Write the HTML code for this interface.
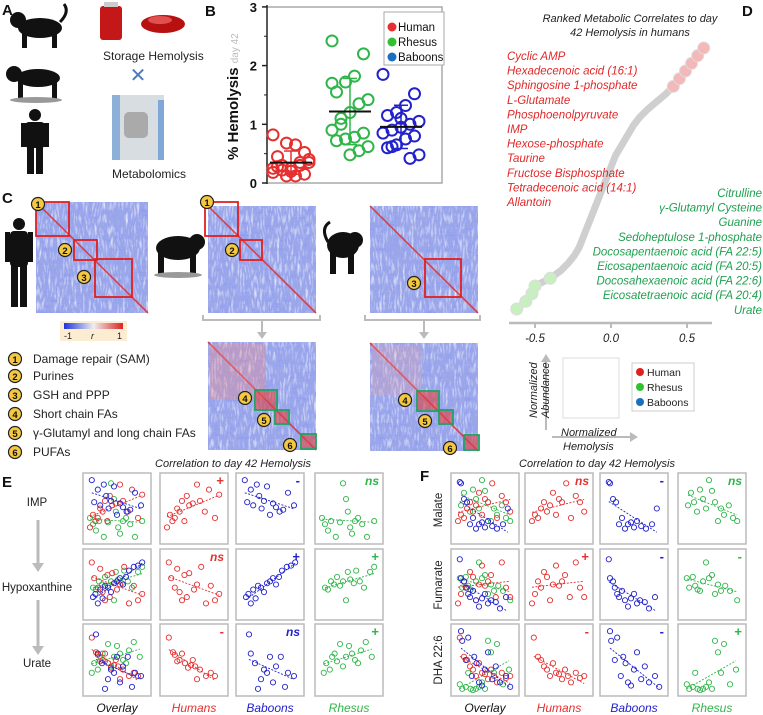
<!DOCTYPE html>
<html><head><meta charset="utf-8"><style>
body{margin:0;background:#fff}
svg{display:block;font-family:"Liberation Sans",sans-serif}
</style></head><body>
<svg id="s" width="763" height="715" viewBox="0 0 763 715" xmlns="http://www.w3.org/2000/svg">
<defs>
<filter id="noise" x="0" y="0" width="100%" height="100%">
<feTurbulence type="turbulence" baseFrequency="0.35 0.08" numOctaves="2" seed="3"/>
<feColorMatrix type="matrix" values="0 0 0 0 1  0 0 0 0 1  0 0 0 0 1  0 0 0 1.6 -0.35"/>
</filter>
<filter id="noise2" x="0" y="0" width="100%" height="100%">
<feTurbulence type="turbulence" baseFrequency="0.08 0.35" numOctaves="2" seed="7"/>
<feColorMatrix type="matrix" values="0 0 0 0 0.25  0 0 0 0 0.3  0 0 0 0 0.9  0 0 0 1.4 -0.4"/>
</filter>
<linearGradient id="cb" x1="0" x2="1"><stop offset="0" stop-color="#2233dd"/><stop offset="0.5" stop-color="#eee"/><stop offset="1" stop-color="#dd2222"/></linearGradient>
</defs>
<g font-weight="bold" font-size="15" fill="#111">
<text x="2" y="15">A</text>
<text x="205" y="16">B</text>
<text x="2" y="203">C</text>
<text x="742" y="16">D</text>
<text x="2" y="487">E</text>
<text x="420" y="481">F</text>
</g>
<!-- Panel A -->
<g>
<g fill="#111"><ellipse cx="40" cy="28" rx="22" ry="10"/><circle cx="18" cy="20" r="8"/><rect x="22" y="32" width="5" height="16"/><rect x="52" y="32" width="5" height="16"/><path d="M60 22 q10 -10 4 -18" stroke="#111" stroke-width="3" fill="none"/></g>
<g fill="#111"><ellipse cx="38" cy="78" rx="22" ry="9"/><circle cx="14" cy="74" r="8"/><rect x="18" y="82" width="5" height="18"/><rect x="52" y="82" width="5" height="18"/><ellipse cx="36" cy="100" rx="26" ry="3" fill="#999"/></g>
<g fill="#111"><circle cx="35" cy="115" r="6"/><rect x="25" y="122" width="20" height="26" rx="4"/><rect x="27" y="146" width="7" height="28"/><rect x="36" y="146" width="7" height="28"/><rect x="21" y="123" width="5" height="24"/><rect x="44" y="123" width="5" height="24"/></g>
<g><rect x="100" y="6" width="22" height="34" rx="3" fill="#c41818"/><rect x="104" y="2" width="14" height="5" fill="#ccc"/><ellipse cx="163" cy="24" rx="22" ry="9" fill="#b71010"/><ellipse cx="160" cy="20" rx="12" ry="4" fill="#e05050"/></g>
<text x="103" y="60" font-size="12" fill="#222">Storage Hemolysis</text>
<text x="138" y="82" font-size="20" fill="#4a7cc0" text-anchor="middle">✕</text>
<g><rect x="112" y="95" width="52" height="65" fill="#d8dde2"/><rect x="112" y="95" width="8" height="65" fill="#8db0d8"/><rect x="158" y="100" width="6" height="60" fill="#7fa8d8"/><rect x="124" y="112" width="24" height="26" rx="5" fill="#aaa"/></g>
<text x="112" y="178" font-size="12" fill="#222">Metabolomics</text>
</g>
<!-- Panel B -->
<g id="pb"></g>
<!-- Panel C -->
<g id="pc">
<g fill="#111"><circle cx="19" cy="224" r="6"/><rect x="10" y="231" width="18" height="36" rx="4"/><rect x="11" y="265" width="7" height="42"/><rect x="20" y="265" width="7" height="42"/><rect x="5" y="232" width="5" height="30"/><rect x="28" y="232" width="5" height="30"/></g>
<g fill="#111"><ellipse cx="178" cy="248" rx="22" ry="12"/><circle cx="197" cy="242" r="8"/><rect x="158" y="252" width="6" height="22"/><rect x="190" y="252" width="6" height="22"/><ellipse cx="178" cy="275" rx="24" ry="3" fill="#999"/></g>
<g fill="#111"><ellipse cx="343" cy="245" rx="16" ry="13"/><circle cx="355" cy="240" r="8"/><rect x="330" y="252" width="6" height="22"/><rect x="348" y="252" width="6" height="22"/><path d="M328 242 q-8 -14 2 -20" stroke="#111" stroke-width="3" fill="none"/></g>
<rect x="60" y="321" width="67" height="20" fill="#fbecd2"/>
<rect x="64" y="323" width="59" height="6" fill="url(#cb)"/>
<text x="64" y="339" font-size="9" fill="#222">-1</text>
<text x="91" y="339" font-size="9" font-style="italic" fill="#222">r</text>
<text x="117" y="339" font-size="9" fill="#222">1</text>
<path d="M203 315 v5 h117 v-5 M262 320 v14" stroke="#bbb" stroke-width="2" fill="none"/>
<path d="M257 332 l5 7 l5 -7z" fill="#bbb"/>
<path d="M365 315 v5 h115 v-5 M424 320 v14" stroke="#bbb" stroke-width="2" fill="none"/>
<path d="M419 332 l5 7 l5 -7z" fill="#bbb"/>
</g>
<g id="pcl" font-size="12" fill="#222"></g>
<!-- Panel D -->
<g id="pd">
<text x="630" y="22" font-size="11" font-style="italic" fill="#222" text-anchor="middle">Ranked Metabolic Correlates to day</text>
<text x="630" y="36" font-size="11" font-style="italic" fill="#222" text-anchor="middle">42 Hemolysis in humans</text>
</g>
<g>
<rect x="563" y="358" width="56" height="60" fill="none" stroke="#ddd"/>
<path d="M546 430 V360" stroke="#bbb" stroke-width="2"/><path d="M541 362 l5 -8 l5 8z" fill="#bbb"/>
<path d="M552 437 H632" stroke="#bbb" stroke-width="2"/><path d="M630 432 l8 5 l-8 5z" fill="#bbb"/>
<text transform="translate(537,418) rotate(-90)" font-size="11" font-style="italic" fill="#222"><tspan x="0" dy="0">Normalized</tspan><tspan x="0" dy="12">Abundance</tspan></text>
<text x="561" y="436" font-size="11" font-style="italic" fill="#222">Normalized</text>
<text x="563" y="450" font-size="11" font-style="italic" fill="#222">Hemolysis</text>
<rect x="632" y="363" width="62" height="48" fill="#fff" stroke="#ccc"/>
<circle cx="640" cy="372" r="4" fill="#e02020"/><text x="647" y="376" font-size="10.5" fill="#222">Human</text>
<circle cx="640" cy="387" r="4" fill="#30c030"/><text x="647" y="391" font-size="10.5" fill="#222">Rhesus</text>
<circle cx="640" cy="402" r="4" fill="#1a6fc0"/><text x="647" y="406" font-size="10.5" fill="#222">Baboons</text>
</g>
<!-- Panels E/F -->
<text x="233" y="467" font-size="11" font-style="italic" fill="#222" text-anchor="middle">Correlation to day 42 Hemolysis</text>
<text x="597" y="467" font-size="11" font-style="italic" fill="#222" text-anchor="middle">Correlation to day 42 Hemolysis</text>
<g font-size="11.5" fill="#222" text-anchor="middle">
<text x="37" y="506">IMP</text>
<text x="37" y="591">Hypoxanthine</text>
<text x="37" y="667">Urate</text>
<text transform="translate(442,510) rotate(-90)">Malate</text>
<text transform="translate(442,585) rotate(-90)">Fumarate</text>
<text transform="translate(442,660) rotate(-90)">DHA 22:6</text>
</g>
<path d="M38 520 V565 M38 600 V648" stroke="#bbb" stroke-width="3"/>
<path d="M32 563 l6 9 l6 -9z M32 646 l6 9 l6 -9z" fill="#bbb"/>
<g id="pef"></g>
</svg>
<script>
const NS="http://www.w3.org/2000/svg";
function mk(p,t,a,txt){const e=document.createElementNS(NS,t);for(const k in a)e.setAttribute(k,a[k]);if(txt!==undefined)e.textContent=txt;p.appendChild(e);return e;}
const RED="#e63030",GRN="#2fb54a",BLU="#2222cc";

/* ---------- Panel B data ---------- */
const bGroups=["Human","Rhesus","Baboons"];
const bHuman=[0.82,0.52,0.65,0.68,0.45,0.35,0.30,0.25,0.22,0.18,0.15,0.12,0.12,0.28,0.40,0.35,0.20,0.30,0.25];
const bRhesus=[2.42,2.2,1.82,1.72,1.55,1.42,1.35,1.2,1.0,0.9,0.85,0.78,0.75,0.72,0.62,0.55,0.48,1.1,1.7];
const bBaboon=[1.85,1.52,1.32,1.2,1.15,1.05,1.0,0.95,0.9,0.85,0.8,0.75,0.65,0.6,0.48,0.42,1.1,0.62];
const bTicks=[0,1,2,3];
(function(){
  const g=document.getElementById('pb');
  const y=v=>183-v*58.7, xc=[291,350,401];
  mk(g,'path',{d:'M267 7 H442 V183 H267',fill:'none',stroke:'#aaa','stroke-width':1.5});
  mk(g,'line',{x1:267,y1:5,x2:267,y2:184,stroke:'#222','stroke-width':1.5});
  bTicks.forEach(t=>{mk(g,'line',{x1:262,x2:267,y1:y(t),y2:y(t),stroke:'#222','stroke-width':1.5});
    const tx=mk(g,'text',{x:257,y:y(t)+5,'font-size':13,'font-weight':'bold','text-anchor':'end',fill:'#111'},String(t));
    
    if(t<3)mk(g,'line',{x1:264,x2:267,y1:y(t+0.5),y2:y(t+0.5),stroke:'#222'});});
  const yl=mk(g,'text',{transform:'translate(238,160) rotate(-90)','font-size':15,'font-weight':'bold',fill:'#111'});
  
  mk(yl,'tspan',{},'% Hemolysis ');mk(yl,'tspan',{'font-size':10,'font-weight':'normal',fill:'#bbb'},'day 42');
  [bHuman,bRhesus,bBaboon].forEach((arr,gi)=>{
    const col=[RED,GRN,BLU][gi];
    const m=arr.reduce((a,b)=>a+b,0)/arr.length;
    const sd=Math.sqrt(arr.reduce((a,b)=>a+(b-m)*(b-m),0)/(arr.length-1));
    arr.forEach((v,i)=>{const c=mk(g,'circle',{cx:xc[gi]+(((i*7)%9)-4)*4.5,cy:y(v),r:5.5,fill:'none',stroke:col,'stroke-width':2});
      });
    mk(g,'line',{x1:xc[gi],x2:xc[gi],y1:y(m+sd),y2:y(Math.max(0,m-sd)),stroke:col,'stroke-width':1.5});
    mk(g,'line',{x1:xc[gi]-7,x2:xc[gi]+7,y1:y(m+sd),y2:y(m+sd),stroke:col,'stroke-width':1.5});
    mk(g,'line',{x1:xc[gi]-7,x2:xc[gi]+7,y1:y(m-sd),y2:y(m-sd),stroke:col,'stroke-width':1.5});
    const ml=mk(g,'line',{x1:xc[gi]-21,x2:xc[gi]+21,y1:y(m),y2:y(m),stroke:'#111','stroke-width':2});
    
  });
  const lg=mk(g,'g',{});
  mk(lg,'rect',{x:384,y:12,width:60,height:53,fill:'#fff',stroke:'#aaa'});
  bGroups.forEach((n,i)=>{mk(lg,'circle',{cx:392,cy:27+i*15,r:4.5,fill:[RED,'#30c030','#1a6fc0'][i]});
    mk(lg,'text',{x:398,y:31+i*15,'font-size':11.5,fill:'#111'},n);});
})();

/* ---------- Panel C heatmaps ---------- */
(function(){
  const g=document.getElementById('pc');
  const maps=[[36,202,112,111,'human-heatmap'],[208,206,108,107,'rhesus-heatmap'],[370,206,108,107,'baboon-heatmap'],[208,342,108,108,'rhesus-zoom-heatmap'],[370,343,108,108,'baboon-zoom-heatmap']];
  maps.forEach(m=>{const[x,y,w,h,n]=m;const sg=mk(g,'g',{});
    mk(sg,'rect',{x,y,width:w,height:h,fill:'#9aa6ea'});
    mk(sg,'rect',{x,y,width:w,height:h,filter:'url(#noise2)'});
    mk(sg,'rect',{x,y,width:w,height:h,filter:'url(#noise)',opacity:0.8});
    mk(sg,'line',{x1:x,y1:y,x2:x+w,y2:y+h,stroke:'#e03030','stroke-width':1.6,opacity:0.85});});
  // zoom red bands
  mk(g,'rect',{x:210,y:344,width:55,height:55,fill:'#f08a8a',opacity:0.35});
  mk(g,'rect',{x:372,y:345,width:50,height:50,fill:'#f0a0a0',opacity:0.25});
  const boxes=[[36,202,33,34,'#e02020',1],[74,240,23,20,'#e02020',2],[95,259,37,38,'#e02020',3],
    [205,202,33,34,'#e02020',1],[240,240,22,20,'#e02020',2],[425,259,36,38,'#e02020',3],
    [255,390,22,20,'#22a060',4],[275,410,14,14,'#22a060',5],[301,434,15,15,'#22a060',6],
    [417,391,22,20,'#22a060',4],[439,410,14,14,'#22a060',5],[464,435,15,15,'#22a060',6]];
  const bc=[[38,204],[65,250],[84,277],[207,202],[232,250],[414,283],[245,398],[264,420],[290,445],[405,400],[425,421],[450,448]];
  boxes.forEach((b,i)=>{const[x,y,w,h,c,n]=b;
    if(c!=='#e02020')mk(g,'rect',{x:x+1,y:y+1,width:w-2,height:h-2,fill:'#e04040',opacity:0.6});
    mk(g,'rect',{x,y,width:w,height:h,fill:'none',stroke:c,'stroke-width':1.8});
    const cc=mk(g,'circle',{cx:bc[i][0],cy:bc[i][1],r:6.5,fill:'#f5c842',stroke:'#222','stroke-width':1.2});
    
    mk(g,'text',{x:bc[i][0],y:bc[i][1]+4,'font-size':9.5,'font-weight':'bold','text-anchor':'middle',fill:'#111'},String(n));});
  const L=document.getElementById('pcl');
  const items=["Damage repair (SAM)","Purines","GSH and PPP","Short chain FAs","γ-Glutamyl and long chain FAs","PUFAs"];
  const ys=[359,376,395,414,433,452];
  items.forEach((t,i)=>{mk(L,'circle',{cx:15,cy:ys[i],r:6.5,fill:'#f5c842',stroke:'#222','stroke-width':1.2});
    mk(L,'text',{x:15,y:ys[i]+4,'font-size':9.5,'font-weight':'bold','text-anchor':'middle',fill:'#111'},String(i+1));
    const e=mk(L,'text',{x:33,y:ys[i]+4},t);});
})();

/* ---------- Panel D data ---------- */
const dCorr=[-0.62,-0.56,-0.52,-0.50,-0.40,-0.33,-0.28,-0.24,-0.21,-0.19,-0.17,-0.15,-0.13,-0.11,-0.09,-0.07,-0.05,-0.03,-0.01,0.01,0.03,0.06,0.09,0.12,0.15,0.19,0.24,0.30,0.36,0.41,0.45,0.49,0.53,0.57,0.61];
const dTicks=[-0.5,0.0,0.5];
const dRed=["Cyclic AMP","Hexadecenoic acid (16:1)","Sphingosine 1-phosphate","L-Glutamate","Phosphoenolpyruvate","IMP","Hexose-phosphate","Taurine","Fructose Bisphosphate","Tetradecenoic acid (14:1)","Allantoin"];
const dGreen=["Citrulline","γ-Glutamyl Cysteine","Guanine","Sedoheptulose 1-phosphate","Docosapentaenoic acid (FA 22:5)","Eicosapentaenoic acid (FA 20:5)","Docosahexaenoic acid (FA 22:6)","Eicosatetraenoic acid (FA 20:4)","Urate"];
(function(){
  const g=document.getElementById('pd');
  const x=v=>611+v*152, n=dCorr.length, y=i=>309-i*(261/(n-1));
  mk(g,'line',{x1:509,x2:712,y1:323,y2:323,stroke:'#bbb','stroke-width':2.5});
  dTicks.forEach(t=>{mk(g,'line',{x1:x(t),x2:x(t),y1:323,y2:328,stroke:'#bbb','stroke-width':2});
    const e=mk(g,'text',{x:x(t),y:342,'font-size':11.5,'font-style':'italic','text-anchor':'middle',fill:'#222'},t.toFixed(1));
    });
  const pts=dCorr.map((v,i)=>x(v)+','+y(i)).join(' ');
  const pl=mk(g,'polyline',{points:pts,fill:'none',stroke:'#cfcfcf','stroke-width':7,'stroke-linejoin':'round','stroke-linecap':'round'});
  
  dCorr.forEach((v,i)=>{let c=null;if(i<5)c='#c8efc0';else if(i>=n-6)c='#f5b8b8';
    if(c){const p=mk(g,'circle',{cx:x(v),cy:y(i),r:6,fill:c,stroke:'#ddd'});}});
  dRed.forEach((t,i)=>{const e=mk(g,'text',{x:507,y:60+i*14.6,'font-size':11.5,'font-style':'italic',fill:'#e02828'},t);
    });
  dGreen.forEach((t,i)=>{const e=mk(g,'text',{x:762,y:197+i*14.6,'font-size':11.5,'font-style':'italic','text-anchor':'end',fill:'#20a050'},t);
    });
})();

/* ---------- Panels E/F scatter data ---------- */
const hIMPx=[5,10,14,18,22,26,30,34,38,42,48,55,60,68,75,85,92], hIMPy=[20,40,30,35,50,45,62,30,70,55,58,88,62,45,80,35,72];
const bIMPx=[8,12,18,22,28,32,36,40,45,50,55,60,66,72,80,90], bIMPy=[95,60,80,55,88,70,50,62,85,40,58,52,45,48,75,55];
const rIMPx=[5,10,15,20,28,35,40,45,48,52,55,60,65,72,80,92], rIMPy=[35,25,15,30,5,28,90,65,45,20,10,30,35,25,5,30];
const hHYx=[8,12,18,22,26,30,34,38,42,50,55,62,70,78,85,92], hHYy=[85,60,45,75,38,25,65,30,68,42,50,78,20,48,25,35];
const bHYx=[10,14,18,22,26,30,35,40,45,50,55,60,65,70,78,85,92], bHYy=[30,35,20,42,28,48,45,38,52,55,60,50,62,72,78,80,85];
const rHYx=[10,15,20,25,30,35,40,45,48,52,58,62,68,75,85,92], rHYy=[45,42,55,50,62,48,55,25,70,58,52,72,55,45,70,78];
const hURx=[8,15,18,22,26,30,35,40,45,48,52,55,60,70,78,85], hURy=[85,62,58,48,50,60,45,38,42,50,40,20,35,25,30,25];
const bURx=[15,18,25,30,35,40,45,50,55,60,68,75,80,90], bURy=[90,60,45,5,20,35,30,55,15,40,55,8,30,25];
const rURx=[8,12,18,22,26,30,35,40,45,50,55,60,65,70,78,88], rURy=[30,45,35,55,60,48,75,40,55,72,60,50,45,65,78,55];
const hMAx=[5,10,15,20,25,30,35,40,45,50,55,62,70,78,85,92], hMAy=[30,40,35,50,60,45,55,75,40,65,60,90,35,70,60,45];
const bMAx=[8,10,15,20,25,30,35,40,45,50,55,62,70,80,88], bMAy=[92,90,65,60,25,35,18,25,28,20,30,22,18,25,50];
const rMAx=[10,15,20,25,30,35,40,45,50,55,60,65,70,78,85,92], rMAy=[55,75,60,45,80,65,50,95,78,60,30,50,40,55,35,30];
const hFUx=[5,10,15,20,25,30,35,40,45,50,55,60,68,78,85,92], hFUy=[20,35,55,45,70,62,25,50,80,48,55,65,30,85,45,30];
const bFUx=[8,10,15,18,22,25,30,35,40,45,50,55,60,68,75,85], bFUy=[90,60,55,45,35,30,40,25,15,28,35,20,25,22,12,30];
const rFUx=[8,12,18,22,26,30,35,40,45,50,55,60,65,72,80,92], rFUy=[60,45,62,48,42,40,55,85,60,65,35,50,40,48,40,25];
const hDHx=[8,15,20,25,30,35,40,45,50,55,60,65,70,78,85,92], hDHy=[85,55,50,40,35,25,45,30,28,20,35,25,15,30,22,25];
const bDHx=[10,12,18,22,28,32,36,40,45,50,55,62,68,75,85,92], bDHy=[95,80,50,85,25,55,45,15,10,35,62,20,40,15,25,8];
const rDHx=[8,12,18,22,26,30,35,40,45,50,55,60,65,70,80,90], rDHy=[12,5,8,30,5,3,5,8,15,5,80,62,30,75,12,35];
const eSig=[["+","-","ns"],["ns","+","+"],["-","ns","+"]];
const fSig=[["ns","-","ns"],["+","-","-"],["-","-","+"]];
(function(){
  const G=document.getElementById('pef');
  function panel(x0,y0,w,h,sets,sig,sigCol,name){
    const g=mk(G,'g',{});
    mk(g,'rect',{x:x0,y:y0,width:w,height:h,fill:'#fff',stroke:'#bbb','stroke-width':1.5});
    const px=v=>x0+4+v/100*(w-8), py=v=>y0+h-4-v/100*(h-8);
    sets.forEach(s=>{
      const n=s.x.length,mx=s.x.reduce((a,b)=>a+b)/n,my=s.y.reduce((a,b)=>a+b)/n;
      let sxy=0,sxx=0;for(let i=0;i<n;i++){sxy+=(s.x[i]-mx)*(s.y[i]-my);sxx+=(s.x[i]-mx)**2;}
      const b=sxy/sxx,a=my-b*mx,xa=Math.min(...s.x),xb=Math.max(...s.x);
      s.x.forEach((v,i)=>{const c=mk(g,'circle',{cx:px(v),cy:py(s.y[i]),r:2.6,fill:'none',stroke:s.c,'stroke-width':0.9});
        });
      const tl=mk(g,'line',{x1:px(xa),y1:py(a+b*xa),x2:px(xb),y2:py(a+b*xb),stroke:s.c,'stroke-width':0.9,'stroke-dasharray':'2,1.5'});
      
    });
    if(sig){const t=mk(g,'text',{x:x0+w-4,y:y0+12,'font-size':sig==='ns'?12:13,'font-weight':'bold','font-style':sig==='ns'?'italic':'normal','text-anchor':'end',fill:sigCol},sig);
      }
  }
  const eRows=[[hIMPx,hIMPy,bIMPx,bIMPy,rIMPx,rIMPy],[hHYx,hHYy,bHYx,bHYy,rHYx,rHYy],[hURx,hURy,bURx,bURy,rURx,rURy]];
  const fRows=[[hMAx,hMAy,bMAx,bMAy,rMAx,rMAy],[hFUx,hFUy,bFUx,bFUy,rFUx,rFUy],[hDHx,hDHy,bDHx,bDHy,rDHx,rDHy]];
  const rowsY=[[473,71],[549,71],[624,72]];
  function grid(rows,cols,sigs,pre){
    rows.forEach((r,ri)=>{const[y0,h]=rowsY[ri];
      const H={x:r[0],y:r[1],c:RED},B={x:r[2],y:r[3],c:BLU},R={x:r[4],y:r[5],c:GRN};
      panel(cols[0],y0,68,h,[R,H,B],null,null,pre+'-overlay-'+ri);
      panel(cols[1],y0,68,h,[H],sigs[ri][0],RED,pre+'-humans-'+ri);
      panel(cols[2],y0,68,h,[B],sigs[ri][1],BLU,pre+'-baboons-'+ri);
      panel(cols[3],y0,68,h,[R],sigs[ri][2],GRN,pre+'-rhesus-'+ri);});
    const labs=["Overlay","Humans","Baboons","Rhesus"],lc=["#111",RED,BLU,GRN];
    labs.forEach((l,i)=>{const t=mk(G,'text',{x:cols[i]+34,y:712,'font-size':12,'font-style':'italic','text-anchor':'middle',fill:lc[i]},l);
      });
  }
  grid(eRows,[83,160,236,315],eSig,'e');
  grid(fRows,[451,525,600,678],fSig,'f');
})();
</script>
</body></html>
